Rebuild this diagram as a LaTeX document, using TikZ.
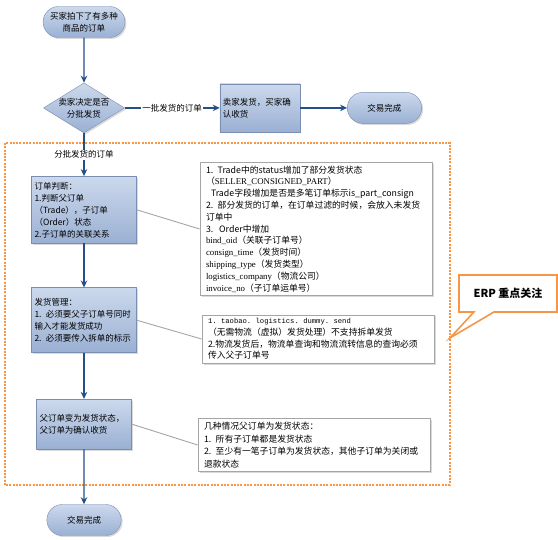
\documentclass[tikz,border=0pt]{standalone}
\usepackage{fontspec}
\setmainfont{Noto Sans CJK SC}
\newfontfamily\idfont{Liberation Serif}
\newfontfamily\apifont{Liberation Mono}
\usepackage{tikz}
\usetikzlibrary{arrows.meta,shapes.geometric,shapes.misc,shapes.callouts,positioning,shadows}
\definecolor{boxtop}{RGB}{204,217,237}
\definecolor{boxbot}{RGB}{154,176,211}
\definecolor{boxline}{RGB}{122,142,178}
\definecolor{flowblue}{RGB}{37,79,134}
\definecolor{erporange}{RGB}{247,150,70}
\definecolor{noteline}{RGB}{165,165,165}
\newcommand{\idf}[1]{{\idfont #1}}

\begin{document}
\begin{tikzpicture}[x=1pt, y=-1pt, every node/.style={font=\fontsize{8.5}{12}\selectfont},
  term/.style={rounded rectangle, draw=boxline, top color=boxtop, bottom color=boxbot, minimum width=81pt, minimum height=31pt, align=center, drop shadow={shadow xshift=1.5pt, shadow yshift=-1.5pt, opacity=0.3}},
  decide/.style={diamond, draw=boxline, top color=boxtop, bottom color=boxbot, aspect=1.6, inner xsep=-4pt, inner ysep=-2pt, minimum width=81pt, minimum height=50pt, align=center, drop shadow={shadow xshift=1.5pt, shadow yshift=-1.5pt, opacity=0.3}},
  stepbox/.style={rectangle, draw=boxline, top color=boxtop, bottom color=boxbot, inner xsep=3pt, align=left, drop shadow={shadow xshift=1.5pt, shadow yshift=-1.5pt, opacity=0.3}},
  notebox/.style={rectangle, draw=noteline, fill=white, line width=0.8pt, inner xsep=6pt, text width=220pt, align=left, font=\fontsize{8.8}{11.8}\selectfont, drop shadow={shadow xshift=1.5pt, shadow yshift=-1.5pt, opacity=0.3}},
  flow/.style={draw=flowblue, line width=1.3pt, -{Stealth[length=7pt,width=6.5pt]}},
  link/.style={draw=noteline, line width=0.9pt},
  lbl/.style={fill=white, inner sep=1pt}]
\useasboundingbox (0,0) rectangle (558,540);

% ERP part
\draw[erporange, line width=2.2pt, dash pattern=on 2pt off 1.3pt] (5,143) rectangle (450,485);
\node (erp) [rectangle callout, draw=erporange, line width=1.6pt, fill=white, minimum width=98pt, minimum height=37pt, callout absolute pointer={(450,338)}, callout pointer width=20pt, font=\fontsize{11}{13}\selectfont\bfseries] at (508,293.5) {ERP 重点关注};

% main flow
\node (buy) [term] at (84,22) {买家拍下了有多种\\商品的订单};
\node (split) [decide, below=45pt of buy] {卖家决定是否\\分批发货};
\node (once) [stepbox, right=95pt of split, text width=74pt, minimum height=48pt] {卖家发货，买家确\\认收货};
\node (done1) [term, right=47pt of once] {交易完成};
\node (check) [stepbox, below=43pt of split, text width=99pt, minimum height=67pt] {订单判断：\\1.判断父订单\\（Trade），子订单\\（Order）状态\\2.子订单的关联关系};
\node (ship) [stepbox, below=44pt of check, text width=99pt, minimum height=65pt] {发货管理：\\1. 必须要父子订单号同时\\输入才能发货成功\\2. 必须要传入拆单的标示\\[4pt]};
\node (parent) [stepbox, below=46pt of ship, text width=89pt, minimum height=50pt] {父订单变为发货状态，\\父订单为确认收货};
\node (done2) [term, below=55pt of parent] {交易完成};

% notes
\node (note1) [notebox] at (316,229) {1. Trade中的status增加了部分发货状态\\（\idf{SELLER\_CONSIGNED\_PART}）\\\hspace*{5pt}Trade字段增加是否是多笔订单标示is\_part\_consign\\2. 部分发货的订单，在订单过滤的时候，会放入未发货\\订单中\\3.\ \ Order中增加\\\idf{bind\_oid}（关联子订单号）\\\idf{consign\_time}（发货时间）\\\idf{shipping\_type}（发货类型）\\\idf{logistics\_company}（物流公司）\\\idf{invoice\_no}（子订单运单号）};
\node (note2) [notebox] at (318,339) {{\apifont\fontsize{7.2}{11.8}\selectfont 1. taobao. logistics. dummy. send}\\（无需物流（虚拟）发货处理）不支持拆单发货\\2.物流发货后，物流单查询和物流流转信息的查询必须\\传入父子订单号};
\node (note3) [notebox, font=\fontsize{8.8}{12.5}\selectfont] at (314,445) {几种情况父订单为发货状态：\\1. 所有子订单都是发货状态\\2. 至少有一笔子订单为发货状态，其他子订单为关闭或\\退款状态};

\draw[link] (check.east) -- (note1.west);
\draw[link] (ship.east) -- (note2.west);
\draw[link] (parent.east) -- (note3.west);

\draw[flow] (buy) -- (split);
\draw[flow] (split) -- node[lbl] {一批发货的订单} (once);
\draw[flow] (once) -- (done1);
\draw[flow] (split) -- node[lbl] {分批发货的订单} (check);
\draw[flow] (check) -- (ship);
\draw[flow] (ship) -- (parent);
\draw[flow] (parent) -- (done2);
\end{tikzpicture}
\end{document}
